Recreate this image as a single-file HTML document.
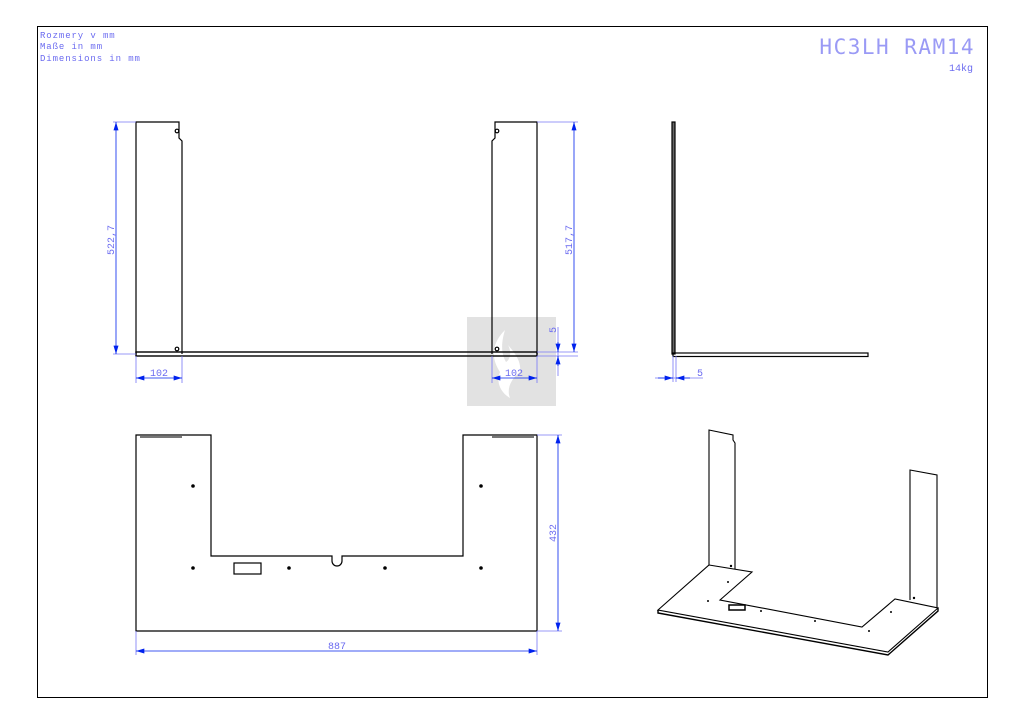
<!DOCTYPE html>
<html><head><meta charset="utf-8"><style>
html,body{margin:0;padding:0;background:#fff;}
svg{display:block;}
text{font-family:"Liberation Mono","DejaVu Sans Mono",monospace;fill:#6b6bf0;}
</style></head><body>
<svg width="1024" height="724" viewBox="0 0 1024 724" xmlns="http://www.w3.org/2000/svg">
<defs>
<marker id="a" viewBox="0 0 10 6" refX="10" refY="3" markerWidth="10" markerHeight="5" orient="auto-start-reverse" markerUnits="userSpaceOnUse"><path d="M0,0 L10,3 L0,6z" fill="#0022ee"/></marker>
</defs>
<rect x="37.5" y="26.5" width="950" height="671" fill="none" stroke="#000" stroke-width="1"/>
<text x="40" y="38" font-size="9" letter-spacing="0.9">Rozmery v mm</text>
<text x="40" y="49" font-size="9" letter-spacing="0.9">Maße in mm</text>
<text x="40" y="61" font-size="9" letter-spacing="0.9">Dimensions in mm</text>
<text x="975" y="54" font-size="21" text-anchor="end" style="fill:#9a9af5;letter-spacing:1.5px;font-family:'DejaVu Sans Mono',monospace;font-weight:200">HC3LH RAM14</text>
<text x="973" y="71" font-size="10" text-anchor="end">14kg</text>

<rect x="467" y="317" width="89" height="89" fill="#e2e2e2"/>
<path d="M505,330 C490,345 492,360 500,372 C496,382 500,392 510,398 C506,388 512,378 520,372 C522,360 512,350 508,345 C512,352 510,360 506,362 C500,352 502,340 505,330z" fill="#fff"/>

<g fill="none" stroke="#000" stroke-width="1.2">
<path d="M136,354 L136,122 L179,122 L179,138 L182,141 L182,354"/>
<path d="M537,354 L537,122 L495,122 L495,138 L492,141 L492,354"/>
<rect x="136" y="352" width="401" height="4" stroke-width="1.4"/>
<circle cx="177" cy="131" r="1.8"/><circle cx="177" cy="349" r="1.8"/>
<circle cx="497" cy="131" r="1.8"/><circle cx="497" cy="349" r="1.8"/>
<rect x="672" y="122" width="3" height="232" fill="#666"/>
<rect x="673" y="353" width="195" height="3.5" stroke-width="1.2"/>
<path d="M136,435 L211,435 L211,556 L332,556 L332,561 A5,5 0 0 0 342,561 L342,556 L463,556 L463,435 L537,435 L537,631 L136,631 Z"/>
<rect x="234" y="563" width="27" height="11"/>
<line x1="140" y1="437" x2="182" y2="437" stroke="#777" stroke-width="2"/>
<line x1="492" y1="437" x2="534" y2="437" stroke="#777" stroke-width="2"/>
</g>
<g fill="#000">
<circle cx="193" cy="486" r="1.8"/><circle cx="481" cy="486" r="1.8"/>
<circle cx="193" cy="568" r="1.8"/><circle cx="289" cy="568" r="1.8"/>
<circle cx="385" cy="568" r="1.8"/><circle cx="481" cy="568" r="1.8"/>
</g>

<g fill="none" stroke="#000" stroke-width="1.1">
<path d="M709,565 L709,430 L733,435 L733,440 L735,443 L735,569"/>
<path d="M910,600 L910,470 L937,475 L937,608"/>
<path d="M709,565 L752,572 L720,600 L862,627 L895,599 L938,608 L888,652 L658,610 Z"/>
<path d="M658,610 L658,613 L888,655 L938,611 L938,608" stroke-width="1.4"/>
<rect x="729" y="605" width="16" height="5" stroke-width="1.5"/>
</g>
<g fill="#000">
<circle cx="731" cy="566" r="1.2"/><circle cx="914" cy="598" r="1.2"/>
<circle cx="708" cy="601" r="1"/><circle cx="761" cy="611" r="1"/><circle cx="815" cy="621" r="1"/>
<circle cx="869" cy="631" r="1"/><circle cx="728" cy="582" r="1"/><circle cx="891" cy="612" r="1"/>
</g>

<g stroke="#7777f5" stroke-width="0.8" fill="none">
<line x1="113" y1="122" x2="136" y2="122"/><line x1="113" y1="354" x2="136" y2="354"/>
<line x1="136" y1="356" x2="136" y2="383"/><line x1="182" y1="356" x2="182" y2="383"/>
<line x1="492" y1="356" x2="492" y2="383"/><line x1="537" y1="356" x2="537" y2="383"/>
<line x1="537" y1="122" x2="578" y2="122"/><line x1="537" y1="356" x2="578" y2="356"/>
<line x1="537" y1="352" x2="578" y2="352"/>
<line x1="558" y1="327" x2="558" y2="376"/>
<line x1="673" y1="356" x2="673" y2="382"/><line x1="676" y1="356" x2="676" y2="382"/>
<line x1="655" y1="378" x2="703" y2="378"/>
<line x1="537" y1="435" x2="562" y2="435"/><line x1="537" y1="631" x2="562" y2="631"/>
<line x1="136" y1="631" x2="136" y2="655"/><line x1="537" y1="631" x2="537" y2="655"/>
</g>
<g stroke="#0022ee" stroke-width="0.8">
<line x1="116" y1="122" x2="116" y2="354" marker-start="url(#a)" marker-end="url(#a)"/>
<line x1="136" y1="378" x2="182" y2="378" marker-start="url(#a)" marker-end="url(#a)"/>
<line x1="492" y1="378" x2="537" y2="378" marker-start="url(#a)" marker-end="url(#a)"/>
<line x1="574" y1="122" x2="574" y2="352" marker-start="url(#a)" marker-end="url(#a)"/>
<line x1="558" y1="342" x2="558" y2="352" marker-end="url(#a)"/>
<line x1="558" y1="366" x2="558" y2="356" marker-end="url(#a)"/>
<line x1="658" y1="378" x2="673" y2="378" marker-end="url(#a)"/>
<line x1="690" y1="378" x2="676" y2="378" marker-end="url(#a)"/>
<line x1="558" y1="435" x2="558" y2="631" marker-start="url(#a)" marker-end="url(#a)"/>
<line x1="136" y1="651" x2="537" y2="651" marker-start="url(#a)" marker-end="url(#a)"/>
</g>
<g font-size="10">
<text x="0" y="0" transform="translate(114,240) rotate(-90)" text-anchor="middle">522,7</text>
<text x="0" y="0" transform="translate(572,240) rotate(-90)" text-anchor="middle">517,7</text>
<text x="0" y="0" transform="translate(556,330) rotate(-90)" text-anchor="middle">5</text>
<text x="0" y="0" transform="translate(556,533) rotate(-90)" text-anchor="middle">432</text>
<text x="159" y="376" text-anchor="middle">102</text>
<text x="514" y="376" text-anchor="middle">102</text>
<text x="700" y="376" text-anchor="middle">5</text>
<text x="337" y="649" text-anchor="middle">887</text>
</g>
</svg>
</body></html>
